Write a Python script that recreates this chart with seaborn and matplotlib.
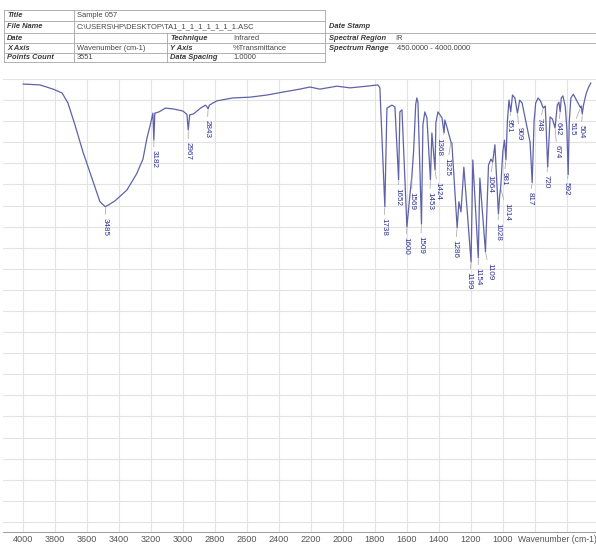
import matplotlib
matplotlib.use("Agg")
import matplotlib.pyplot as plt
from matplotlib.lines import Line2D
import numpy as np
import pandas as pd
import seaborn as sns

# ---- IR spectrum (wavenumber in cm-1, %T) ----
wavenumber = [
    4000, 3894, 3812, 3756, 3719, 3675, 3625, 3569, 3519, 3485, 3425, 3350,
    3290, 3250, 3225, 3205, 3188, 3182, 3176, 3150, 3110, 3060, 3000, 2975,
    2967, 2958, 2935, 2890, 2860, 2850, 2843, 2835, 2790, 2690, 2580, 2475,
    2375, 2270, 2206, 2144, 2038, 1956, 1850, 1781, 1769, 1738, 1725, 1694,
    1675, 1652, 1644, 1631, 1600, 1580, 1569, 1558, 1545, 1538, 1531, 1509,
    1500, 1488, 1475, 1453, 1444, 1424, 1419, 1406, 1381, 1368, 1363, 1350,
    1325, 1319, 1286, 1275, 1262, 1244, 1199, 1188, 1154, 1144, 1109, 1090,
    1075, 1064, 1050, 1028, 1020, 1014, 1000, 990, 981, 972, 962, 951,
    940, 925, 909, 895, 880, 830, 817, 805, 795, 780, 765, 748,
    735, 720, 705, 690, 674, 660, 650, 642, 635, 625, 610, 600,
    592, 585, 575, 560, 540, 525, 515, 510, 504, 495, 480, 465, 450,
]
transmittance = [
    98.8, 98.6, 97.6, 96.7, 94.3, 89.1, 82.7, 76.5, 70.9, 69.7, 71.1, 73.7,
    77.5, 81.0, 86.0, 89.0, 91.9, 85.5, 91.9, 92.2, 93.1, 92.9, 92.4, 91.6,
    87.9, 91.5, 91.7, 93.1, 93.8, 93.4, 92.9, 93.8, 94.8, 95.5, 95.7, 96.2,
    96.9, 97.6, 98.1, 97.6, 98.3, 97.9, 98.3, 98.6, 97.9, 69.7, 93.1, 93.8,
    93.4, 76.1, 92.2, 92.7, 64.9, 73.0, 77.0, 83.0, 94.0, 95.5, 94.5, 65.6,
    89.1, 92.2, 90.8, 76.1, 87.2, 78.4, 89.6, 92.2, 90.8, 87.2, 90.3, 88.6,
    85.1, 84.8, 64.7, 70.9, 68.5, 79.1, 56.6, 80.8, 57.6, 76.5, 59.0, 79.6,
    81.0, 80.3, 84.4, 68.0, 72.5, 74.2, 83.0, 85.5, 80.8, 90.0, 95.0, 92.2,
    96.2, 95.5, 91.9, 95.0, 94.3, 85.0, 75.4, 90.0, 94.3, 95.5, 94.8, 93.1,
    93.6, 79.1, 91.0, 90.5, 88.4, 93.8, 94.5, 92.2, 95.5, 96.0, 93.5, 88.0,
    77.3, 90.0, 95.5, 96.4, 95.0, 94.0, 93.2, 93.6, 91.7, 94.0, 96.5, 98.0, 99.1,
]

# picked peaks
peak_labels = [3485, 3182, 2967, 2843, 1738, 1652, 1600, 1569, 1509, 1453,
               1424, 1368, 1325, 1286, 1199, 1154, 1109, 1064, 1028, 1014,
               981, 951, 909, 817, 748, 720, 674, 642, 592, 515, 504]

tick_values = [4000, 3800, 3600, 3400, 3200, 3000, 2800, 2600, 2400, 2200,
               2000, 1800, 1600, 1400, 1200, 1000]

# label placement (pixel offsets of each peak label from its peak)
label_offsets = {
    3485: (0, -11), 3182: (0, -10), 2967: (0, -12), 2843: (-1, -11),
    1738: (-1, -11), 1652: (-1, -8), 1600: (-1, -10), 1569: (0, -16),
    1509: (-1, -12), 1453: (-1, -12), 1424: (3, -12), 1368: (-5, -5),
    1325: (-4, -16), 1286: (-2, -12), 1199: (-2, -10), 1154: (0, -10),
    1109: (4, -11), 1064: (-3, -13), 1028: (-1, -9), 1014: (6, -15),
    981: (-2, -12), 951: (-2, -7), 909: (2, -14), 817: (-2, -9),
    748: (-4, -10), 720: (-2, -8), 674: (2, -17), 642: (-2, -10),
    592: (-2, -7), 515: (-8, -14), 504: (-1, -11),
}

LINE = "#5f62a8"
LABEL = "#2b2f96"
GRID = "#e3e3e3"
TXT = "#3a3a3a"

sns.set_style("white")
plt.rcParams["font.family"] = ["Liberation Sans", "DejaVu Sans"]

W, H = 596, 544
fig = plt.figure(figsize=(W / 100, H / 100), dpi=100)
ax = fig.add_axes([3 / W, (H - 532) / H, (W - 3) / W, (532 - 79) / H])

spec = pd.DataFrame({"wavenumber": wavenumber, "T": transmittance})
sns.lineplot(data=spec, x="wavenumber", y="T", ax=ax, color=LINE,
             linewidth=0.9, estimator=None, sort=False)

ax.set_xlim(4125, 418)
ax.set_ylim(-7.4, 100)

# grid
major = list(range(4000, 599, -200))
ax.set_xticks(major, [str(v) if v in tick_values else "" for v in major])
ax.set_xticks(np.arange(4120, 418, -20), minor=True)
ax.set_yticks(np.arange(-5, 101, 5))
ax.set_yticklabels([])
ax.grid(True, which="major", color=GRID, linewidth=0.8)
ax.tick_params(axis="y", length=0)
ax.tick_params(axis="x", which="major", direction="in", length=4, width=0.5,
               color="#8a8a8a", labelsize=6.6, labelcolor="#555555", pad=2)
ax.tick_params(axis="x", which="minor", direction="in", length=2.5,
               width=0.4, color="#8a8a8a")
for side in ("top", "left", "right"):
    ax.spines[side].set_visible(False)
ax.spines["bottom"].set_color("#8a8a8a")
ax.spines["bottom"].set_linewidth(0.6)
ax.set_xlabel("")
ax.set_ylabel("")
ax.annotate("Wavenumber (cm-1)", xy=(905, 0), xycoords=ax.get_xaxis_transform(),
            xytext=(0, -2.8), textcoords="offset pixels",
            ha="left", va="top", fontsize=6.2, color="#555555",
            annotation_clip=False)

# peak labels
t_lookup = dict(zip(wavenumber, transmittance))
for wn in peak_labels:
    dx, dy = label_offsets[wn]
    ax.annotate(str(wn), xy=(wn, t_lookup[wn]), xytext=(dx, dy),
                textcoords="offset pixels", rotation=270, ha="center",
                va="top", fontsize=5.8, color=LABEL,
                arrowprops=dict(arrowstyle="-", color="#a0a0a0", lw=0.5,
                                shrinkA=0, shrinkB=1))

# ---- header table ----
def fx(x):
    return x / W

def fy(y):
    return 1 - y / H

def hline(x0, x1, y):
    fig.add_artist(Line2D([fx(x0), fx(x1)], [fy(y), fy(y)], color="#a5a5a5",
                          lw=0.6))

def vline(x, y0, y1):
    fig.add_artist(Line2D([fx(x), fx(x)], [fy(y0), fy(y1)], color="#a5a5a5",
                          lw=0.6))

rows = [10, 21, 33, 43, 53, 62]
for y in rows:
    hline(4, 325, y)
vline(4, 10, 62)
vline(74, 10, 62)
vline(325, 10, 62)
vline(167, 33, 62)
hline(325, 596, 33)
hline(325, 596, 43)

centers = [15.5, 27, 38, 48, 57.5]
bold = dict(fontsize=5.4, fontweight="bold", fontstyle="italic", color=TXT,
            va="center", ha="left")
plain = dict(fontsize=5.4, color="#444444", va="center", ha="left")

fig.text(fx(7), fy(centers[0]), "Title", **bold)
fig.text(fx(77), fy(centers[0]), "Sample 057", **plain)
fig.text(fx(7), fy(centers[1]), "File Name", **bold)
fig.text(fx(77), fy(centers[1]), r"C:\USERS\HP\DESKTOP\TA1_1_1_1_1_1_1_1.ASC",
         **plain)
fig.text(fx(7), fy(centers[2]), "Date", **bold)
fig.text(fx(170), fy(centers[2]), "Technique", **bold)
fig.text(fx(233), fy(centers[2]), "Infrared", **plain)
fig.text(fx(7), fy(centers[3]), "X Axis", **bold)
fig.text(fx(77), fy(centers[3]), "Wavenumber (cm-1)", **plain)
fig.text(fx(170), fy(centers[3]), "Y Axis", **bold)
fig.text(fx(233), fy(centers[3]), "%Transmittance", **plain)
fig.text(fx(7), fy(centers[4]), "Points Count", **bold)
fig.text(fx(77), fy(centers[4]), "3551", **plain)
fig.text(fx(170), fy(centers[4]), "Data Spacing", **bold)
fig.text(fx(233), fy(centers[4]), "1.0000", **plain)

fig.text(fx(329), fy(centers[1]), "Date Stamp", **bold)
fig.text(fx(329), fy(centers[2]), "Spectral Region", **bold)
fig.text(fx(395), fy(centers[2]), "IR", **plain)
fig.text(fx(329), fy(centers[3]), "Spectrum Range", **bold)
fig.text(fx(397), fy(centers[3]), "450.0000 - 4000.0000", **plain)

fig.savefig("out.png", dpi=100)
